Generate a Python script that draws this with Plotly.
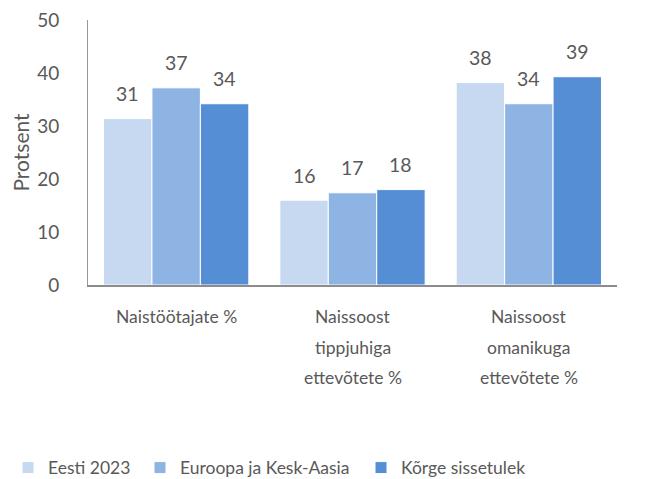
import plotly.graph_objects as go

categories = ["Naistöötajate %", "Naissoost tippjuhiga ettevõtete %", "Naissoost omanikuga ettevõtete %"]
category_lines = [["Naistöötajate %"], ["Naissoost", "tippjuhiga", "ettevõtete %"], ["Naissoost", "omanikuga", "ettevõtete %"]]
series_names = ["Eesti 2023", "Euroopa ja Kesk-Aasia", "Kõrge sissetulek"]
eesti_2023 = [31.4, 16.0, 38.2]
euroopa_kesk_aasia = [37.2, 17.4, 34.2]
korge_sissetulek = [34.2, 18.0, 39.3]
y_ticks = [0, 10, 20, 30, 40, 50]

series_values = [eesti_2023, euroopa_kesk_aasia, korge_sissetulek]
colors = ["#C6D9F1", "#8EB4E3", "#558ED5"]
FONT = "Lato"
GRAY = "#595959"
bargap = 0.176
FIG_W, FIG_H = 652, 471  # the page body adds an 8px offset
legend_left_px = [0, 132, 353]
legend_ids = ["legend", "legend2", "legend3"]

fig = go.Figure()
for name, vals, col, lid in zip(series_names, series_values, colors, legend_ids):
    fig.add_trace(go.Bar(
        x=list(range(len(categories))), y=vals, name=name, legend=lid,
        marker=dict(color=col, line=dict(color="white", width=1)),
        hoverinfo="skip",
    ))

annotations = []
n = len(series_values)
w = (1 - bargap) / n
for j, vals in enumerate(series_values):
    for i, v in enumerate(vals):
        annotations.append(dict(
            x=i + (j - (n - 1) / 2) * w, y=v, xref="x", yref="y",
            text=f"{v:.0f}", showarrow=False, yanchor="middle", yshift=25,
            font=dict(family=FONT, size=19.5, color=GRAY),
        ))
for i, lines in enumerate(category_lines):
    for k, line in enumerate(lines):
        annotations.append(dict(
            x=i, y=0, xref="x", yref="y", text=line, showarrow=False,
            yanchor="middle", yshift=-31.5 - 30.5 * k,
            font=dict(family=FONT, size=17.5, color=GRAY),
        ))

legend_common = dict(orientation="h", xref="container", yref="container",
                     xanchor="left", y=0.024, yanchor="middle",
                     font=dict(family=FONT, size=17.5, color=GRAY),
                     bgcolor="rgba(0,0,0,0)")
fig.update_layout(
    width=FIG_W, height=FIG_H,
    margin=dict(l=80, r=43, t=12, b=194, autoexpand=False),
    paper_bgcolor="white", plot_bgcolor="white",
    barmode="group", bargap=bargap, bargroupgap=0,
    font=dict(family=FONT, size=17, color=GRAY),
    showlegend=True,
    legend=dict(x=legend_left_px[0] / FIG_W, **legend_common),
    legend2=dict(x=legend_left_px[1] / FIG_W, **legend_common),
    legend3=dict(x=legend_left_px[2] / FIG_W, **legend_common),
    annotations=annotations,
)
fig.update_xaxes(
    range=[-0.5, 2.5], showticklabels=False, ticks="",
    showline=True, linecolor="#8C8C8C", linewidth=1.5,
    showgrid=False, zeroline=False, tickmode="array", tickvals=[0, 1, 2],
)
fig.update_yaxes(
    range=[0, 50], tickvals=y_ticks, showgrid=False, zeroline=False,
    showline=True, linecolor="#999999", linewidth=1,
    tickfont=dict(family=FONT, size=19, color=GRAY),
    ticks="", ticklabelstandoff=24, ticklabeloverflow="allow",
    title=dict(text="Protsent", standoff=12, font=dict(family=FONT, size=21, color=GRAY)),
)

fig.write_html("out.html")
